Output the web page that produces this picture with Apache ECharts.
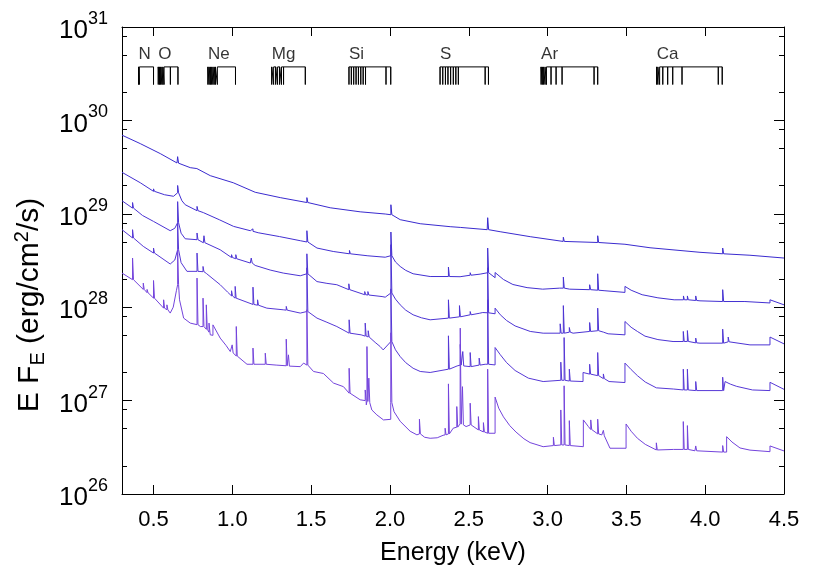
<!DOCTYPE html>
<html>
<head>
<meta charset="utf-8">
<script src="https://cdn.jsdelivr.net/npm/echarts@6/dist/echarts.min.js"></script>
<style>
  html, body { margin: 0; padding: 0; background: #fff; }
  #chart { width: 830px; height: 581px; }
</style>
</head>
<body>
<div id="chart"></div>
<script>
// axis ticks
const energyTicks = [0.5, 1.0, 1.5, 2.0, 2.5, 3.0, 3.5, 4.0, 4.5];
const fluxDecades = [1e26, 1e27, 1e28, 1e29, 1e30, 1e31];
const fluxMinor = [2e26, 5e26, 8e26, 2e27, 5e27, 8e27, 2e28, 5e28, 8e28,
  2e29, 5e29, 8e29, 2e30, 5e30, 8e30];

// continuum [E keV, E*F_E], lines [E keV, base, peak], top to bottom
const spec1Cont = [[0.3, 6.95e29], [0.416, 5.64e29], [0.543, 4.41e29], [0.649, 3.5e29], [0.733, 3.12e29],
  [0.86, 2.56e29], [1.006, 2.15e29], [1.145, 1.7e29], [1.304, 1.49e29], [1.473, 1.32e29], [1.621, 1.16e29],
  [1.811, 1.05e29], [1.97, 9.95e28], [2.006, 9.77e28], [2.065, 8.65e28], [2.192, 7.83e28], [2.382, 7.28e28],
  [2.617, 6.76e28], [2.699, 6.43e28], [2.89, 5.69e28], [3.099, 5.06e28], [3.318, 4.93e28], [3.491, 4.72e28],
  [3.65, 4.33e28], [3.967, 3.87e28], [4.111, 3.73e28], [4.284, 3.6e28], [4.5, 3.36e28]];
const spec1Lines = [[0.653, 3.48e29, 4.09e29], [0.775, 3.05e29, 3.2e29], [1.473, 1.32e29, 1.49e29],
  [2.006, 9.77e28, 1.25e29], [2.446, 7.15e28, 7.5e28], [2.62, 6.76e28, 9.08e28], [3.1, 5.06e28, 5.61e28],
  [3.318, 4.93e28, 5.82e28], [4.111, 3.73e28, 4.3e28]];

const spec2Cont = [[0.3, 2.78e29], [0.416, 2.15e29], [0.5, 1.74e29], [0.57, 1.6e29], [0.627, 1.54e29],
  [0.653, 1.68e29], [0.68, 1.38e29], [0.701, 1.25e29], [0.776, 1.08e29], [0.816, 1.03e29], [0.92, 8.6e28],
  [1.008, 7.33e28], [1.114, 6.59e28], [1.164, 6.27e28], [1.3, 5.7e28], [1.431, 5.15e28], [1.473, 4.99e28],
  [1.537, 4.3e28], [1.64, 3.95e28], [1.743, 3.73e28], [1.86, 3.55e28], [1.97, 3.43e28], [2.006, 3.56e28],
  [2.035, 3.05e28], [2.065, 2.73e28], [2.1, 2.48e28], [2.147, 2.28e28], [2.255, 2.13e28], [2.371, 2.13e28],
  [2.445, 2.12e28], [2.572, 2.26e28], [2.62, 2.34e28], [2.667, 2.07e28], [2.667, 2.35e28], [2.72, 1.98e28],
  [2.78, 1.75e28], [2.87, 1.62e28], [2.969, 1.56e28], [3.077, 1.6e28], [3.14, 1.56e28], [3.267, 1.54e28],
  [3.364, 1.5e28], [3.491, 1.44e28], [3.491, 1.67e28], [3.53, 1.52e28], [3.6, 1.36e28], [3.7, 1.26e28],
  [3.803, 1.2e28], [3.967, 1.17e28], [4.111, 1.15e28], [4.252, 1.15e28], [4.411, 1.11e28], [4.411, 1.2e28],
  [4.5, 1.06e28]];
const spec2Lines = [[0.5, 1.74e29, 1.85e29], [0.653, 1.68e29, 2.01e29], [0.776, 1.08e29, 1.2e29],
  [1.125, 6.5e28, 6.9e28], [1.473, 4.99e28, 6.59e28], [1.743, 3.73e28, 4.05e28], [2.006, 3.56e28, 6.38e28],
  [2.371, 2.13e28, 2.69e28], [2.509, 2.2e28, 2.34e28], [2.62, 2.34e28, 4.3e28], [3.1, 1.6e28, 2.1e28],
  [3.267, 1.54e28, 1.74e28], [3.318, 1.52e28, 2.28e28], [3.862, 1.2e28, 1.32e28], [3.887, 1.2e28, 1.32e28],
  [3.94, 1.18e28, 1.32e28], [4.111, 1.15e28, 1.54e28]];

const spec3Cont = [[0.3, 1.38e29], [0.367, 1.15e29], [0.43, 9.6e28], [0.5, 8.29e28], [0.606, 6.59e28],
  [0.635, 7.0e28], [0.653, 8.03e28], [0.675, 6.2e28], [0.701, 5.4e28], [0.776, 5.28e28], [0.816, 4.9e28],
  [0.923, 4.12e28], [1.006, 3.36e28], [1.114, 2.97e28], [1.145, 2.8e28], [1.24, 2.5e28], [1.323, 2.32e28],
  [1.431, 2.17e28], [1.473, 2.28e28], [1.537, 1.88e28], [1.6, 1.8e28], [1.663, 1.74e28], [1.739, 1.54e28],
  [1.843, 1.36e28], [1.95, 1.3e28], [1.97, 1.28e28], [2.006, 1.42e28], [2.035, 1.22e28], [2.065, 1.06e28],
  [2.1, 9.3e27], [2.147, 8.29e27], [2.2, 7.7e27], [2.255, 7.33e27], [2.371, 7.64e27], [2.452, 7.94e27],
  [2.509, 8.29e27], [2.589, 8.77e27], [2.62, 8.71e27], [2.667, 8.5e27], [2.667, 9.77e27], [2.7, 8.3e27],
  [2.74, 7.2e27], [2.794, 6.3e27], [2.89, 5.5e27], [2.972, 5.27e27], [3.08, 5.27e27], [3.162, 5.27e27],
  [3.267, 5.5e27], [3.384, 5.19e27], [3.491, 5.06e27], [3.491, 7.03e27], [3.53, 6.1e27], [3.57, 5.5e27],
  [3.618, 4.9e27], [3.7, 4.5e27], [3.796, 4.29e27], [3.967, 4.12e27], [4.146, 4.26e27], [4.284, 3.95e27],
  [4.411, 3.95e27], [4.411, 4.79e27], [4.5, 4.05e27]];
const spec3Lines = [[0.367, 1.15e29, 1.32e29], [0.5, 8.29e28, 8.65e28], [0.653, 8.03e28, 1.35e29],
  [0.776, 5.28e28, 6.23e28], [0.82, 4.9e28, 5.82e28], [0.995, 3.4e28, 3.65e28], [1.022, 3.3e28, 3.65e28],
  [1.12, 2.97e28, 3.36e28], [1.473, 2.28e28, 3.73e28], [1.663, 1.74e28, 1.8e28], [1.739, 1.54e28, 1.78e28],
  [1.84, 1.36e28, 1.47e28], [1.86, 1.35e28, 1.47e28], [2.006, 1.42e28, 4.67e28], [2.371, 7.64e27, 1.2e28],
  [2.441, 7.89e27, 1.04e28], [2.509, 8.29e27, 8.99e27], [2.566, 8.6e27, 8.99e27], [2.62, 8.71e27, 2.64e28],
  [3.08, 5.27e27, 6.64e27], [3.1, 5.27e27, 1.04e28], [3.138, 5.4e27, 6.06e27], [3.267, 5.5e27, 6.85e27],
  [3.318, 5.6e27, 9.77e27], [3.354, 5.41e27, 5.6e27], [3.861, 4.29e27, 5.5e27], [3.887, 4.3e27, 5.62e27],
  [3.94, 4.15e27, 4.67e27], [4.111, 4.12e27, 5.82e27], [4.146, 4.26e27, 4.79e27]];

const spec4Cont = [[0.3, 6.76e28], [0.367, 5.51e28], [0.435, 4.48e28], [0.5, 3.8e28], [0.606, 2.9e28],
  [0.635, 3.2e28], [0.653, 4.12e28], [0.675, 3.0e28], [0.712, 2.42e28], [0.776, 2.42e28], [0.835, 2.3e28],
  [0.923, 1.74e28], [0.97, 1.45e28], [1.018, 1.25e28], [1.133, 1.06e28], [1.219, 9.77e27], [1.323, 9.38e27],
  [1.431, 8.65e27], [1.473, 8.99e27], [1.537, 7.64e27], [1.6, 6.9e27], [1.663, 6.21e27], [1.741, 5.27e27],
  [1.817, 5.06e27], [1.906, 4.2e27], [1.938, 3.79e27], [1.957, 3.49e27], [2.006, 4.29e27], [2.035, 3.5e27],
  [2.065, 2.96e27], [2.1, 2.55e27], [2.147, 2.22e27], [2.192, 2.05e27], [2.255, 2.0e27], [2.371, 2.17e27],
  [2.426, 2.35e27], [2.509, 2.31e27], [2.604, 2.45e27], [2.667, 2.41e27], [2.667, 3.7e27], [2.7, 3.1e27],
  [2.74, 2.55e27], [2.794, 2.1e27], [2.878, 1.74e27], [2.972, 1.6e27], [3.105, 1.65e27], [3.225, 1.6e27],
  [3.225, 2.0e27], [3.28, 1.95e27], [3.39, 1.6e27], [3.491, 1.56e27], [3.491, 2.52e27], [3.53, 2.15e27],
  [3.57, 1.85e27], [3.62, 1.58e27], [3.69, 1.37e27], [3.8, 1.33e27], [3.967, 1.28e27], [4.126, 1.3e27],
  [4.126, 1.6e27], [4.16, 1.5e27], [4.2, 1.42e27], [4.3, 1.3e27], [4.411, 1.28e27], [4.411, 1.57e27],
  [4.5, 1.32e27]];
const spec4Lines = [[0.367, 5.51e28, 6.76e28], [0.5, 3.8e28, 4.3e28], [0.653, 4.12e28, 8.03e28],
  [0.776, 2.42e28, 3.8e28], [0.814, 2.4e28, 2.73e28], [0.995, 1.32e28, 1.5e28], [1.018, 1.25e28, 1.67e28],
  [1.131, 1.07e28, 1.64e28], [1.16, 1.05e28, 1.2e28], [1.342, 9.3e27, 1.02e28], [1.473, 8.99e27, 2.64e28],
  [1.741, 5.27e27, 7.33e27], [1.843, 4.9e27, 6.76e27], [1.862, 4.8e27, 5.6e27], [2.006, 4.29e27, 1.57e28],
  [2.371, 2.17e27, 4.94e27], [2.446, 2.4e27, 4.0e27], [2.462, 2.35e27, 3.35e27], [2.509, 2.31e27, 3.27e27],
  [2.566, 2.4e27, 2.85e27], [2.62, 2.45e27, 1.2e28], [3.084, 1.65e27, 2.58e27], [3.105, 1.65e27, 4.73e27],
  [3.138, 1.62e27, 2.17e27], [3.267, 1.92e27, 2.45e27], [3.318, 1.85e27, 3.27e27], [3.354, 1.72e27, 1.93e27],
  [3.861, 1.3e27, 2.17e27], [3.887, 1.3e27, 2.17e27], [3.94, 1.28e27, 1.6e27], [4.111, 1.28e27, 1.78e27]];

const spec5Cont = [[0.3, 2.32e28], [0.367, 1.97e28], [0.435, 1.55e28], [0.459, 1.43e28], [0.5, 1.25e28],
  [0.564, 9.77e27], [0.606, 8.65e27], [0.625, 1.0e28], [0.645, 1.5e28], [0.653, 1.74e28], [0.665, 1.2e28],
  [0.691, 7.64e27], [0.733, 6.76e27], [0.797, 6.21e27], [0.86, 5.06e27], [0.877, 5.0e27], [0.877, 6.47e27],
  [0.923, 4.67e27], [0.96, 3.9e27], [0.987, 3.35e27], [1.025, 3.0e27], [1.093, 2.45e27], [1.131, 2.45e27],
  [1.209, 2.45e27], [1.278, 2.4e27], [1.342, 2.36e27], [1.431, 2.31e27], [1.452, 2.52e27], [1.473, 2.4e27],
  [1.515, 2.05e27], [1.578, 1.95e27], [1.642, 1.54e27], [1.705, 1.41e27], [1.748, 1.15e27], [1.811, 1.02e27],
  [1.85, 9.0e26], [1.885, 7.94e26], [1.917, 7.03e26], [1.959, 6.21e26], [2.005, 6.3e26], [2.005, 9.5e26],
  [2.026, 7.6e26], [2.065, 6.0e26], [2.128, 4.7e26], [2.171, 4.3e26], [2.22, 4.05e26], [2.255, 3.95e26],
  [2.3, 4.0e26], [2.337, 4.25e26], [2.371, 4.4e26], [2.401, 5.06e26], [2.445, 5.62e26], [2.483, 5.27e26],
  [2.509, 5.49e26], [2.561, 4.85e26], [2.593, 4.62e26], [2.62, 4.47e26], [2.667, 4.47e26], [2.667, 1.09e27],
  [2.69, 8.3e26], [2.72, 6.7e26], [2.76, 5.4e26], [2.8, 4.6e26], [2.85, 3.9e26], [2.889, 3.55e26],
  [2.972, 3.21e26], [3.1, 3.35e26], [3.15, 3.3e26], [3.227, 3.21e26], [3.227, 6.21e26], [3.259, 5.27e26],
  [3.29, 4.8e26], [3.344, 4.29e26], [3.396, 3.09e26], [3.498, 3.09e26], [3.498, 5.62e26], [3.53, 4.7e26],
  [3.57, 3.95e26], [3.62, 3.4e26], [3.692, 2.96e26], [3.8, 3.0e26], [3.935, 2.9e26], [4.136, 2.81e26],
  [4.136, 4.11e26], [4.17, 3.6e26], [4.221, 3.11e26], [4.284, 2.95e26], [4.411, 2.84e26], [4.411, 3.27e26],
  [4.5, 2.89e26]];
const spec5Lines = [[0.367, 1.97e28, 3.36e28], [0.435, 1.55e28, 1.81e28], [0.459, 1.43e28, 1.55e28],
  [0.5, 1.25e28, 1.93e28], [0.564, 9.77e27, 1.2e28], [0.585, 9.38e27, 1.06e28], [0.653, 1.74e28, 4.12e28],
  [0.776, 6.5e27, 2.05e28], [0.814, 6.2e27, 1.25e28], [0.835, 5.8e27, 1.06e28], [0.852, 5.4e27, 6.76e27],
  [0.999, 3.24e27, 3.95e27], [1.025, 3.0e27, 6.21e27], [1.131, 2.45e27, 3.65e27], [1.209, 2.45e27, 3.22e27],
  [1.278, 2.4e27, 2.52e27], [1.342, 2.36e27, 4.55e27], [1.356, 2.34e27, 3.09e27], [1.473, 2.4e27, 9.38e27],
  [1.741, 1.2e27, 2.22e27], [1.843, 1.0e27, 1.3e27], [1.854, 9.8e26, 3.79e27], [1.866, 9.5e26, 1.74e27],
  [2.006, 9.5e26, 5.32e27], [2.187, 4.4e26, 6.32e26], [2.35, 4.3e26, 5.06e26], [2.371, 4.4e26, 1.51e27],
  [2.424, 5.2e26, 8.63e26], [2.446, 5.6e26, 5.97e27], [2.46, 5.5e26, 1.41e27], [2.509, 5.49e26, 9.38e26],
  [2.561, 4.85e26, 6.74e26], [2.593, 4.62e26, 5.81e26], [2.62, 4.47e26, 2.17e27], [3.037, 3.3e26, 4.05e26],
  [3.084, 3.35e26, 7.94e26], [3.105, 3.35e26, 1.44e27], [3.138, 3.3e26, 6.1e26], [3.274, 4.9e26, 6.21e26],
  [3.318, 4.4e26, 6.32e26], [3.354, 4.2e26, 4.8e26], [3.69, 2.96e26, 3.53e26], [3.861, 3.0e26, 5.96e26],
  [3.887, 3.0e26, 5.4e26], [3.94, 2.9e26, 3.27e26], [4.111, 2.81e26, 3.3e26]];

// element line markers at the top
const elementNames = ['N', 'O', 'Ne', 'Mg', 'Si', 'S', 'Ar', 'Ca'];
const elementLines = [
  [0.405, 0.41, 0.5],
  [0.53, 0.538, 0.545, 0.553, 0.56, 0.567, 0.607, 0.655],
  [0.845, 0.853, 0.861, 0.869, 0.877, 0.885, 0.893, 0.905, 1.02],
  [1.25, 1.262, 1.275, 1.287, 1.3, 1.312, 1.325, 1.463],
  [1.74, 1.755, 1.77, 1.785, 1.8, 1.815, 1.83, 1.845, 1.975, 2.005],
  [2.318, 2.335, 2.352, 2.368, 2.385, 2.402, 2.418, 2.434, 2.604, 2.625],
  [2.959, 2.967, 2.975, 2.984, 2.993, 3.022, 3.054, 3.092, 3.295, 3.318],
  [3.692, 3.7, 3.711, 3.731, 3.762, 3.794, 3.853, 4.083, 4.108]
];

const colors = ['#3a2bcf', '#4330d2', '#4c34d4', '#5638d6', '#7444dc'];
const lineWidthKeV = 0.006;
const markTop = 3.74e30, markBottom = 2.42e30, markLabel = 5.07e30;
const font = "'Liberation Sans', Arial, sans-serif";
// label positions: the top decade nudged inside the extent (float round-off drops 1e31 itself)
const fluxLabelValues = fluxDecades.map(v => (v === 1e31 ? 0.99999e31 : v));

// continuum + narrow lines -> one polyline
function buildSpectrum(cont, lines) {
  const groups = cont.map(p => ({ e: p[0], pts: [p] }));
  lines.forEach(l => {
    groups.push({ e: l[0], pts: [[l[0], l[1]], [l[0], l[2]], [l[0] + lineWidthKeV, l[2]], [l[0] + lineWidthKeV, l[1]]] });
  });
  groups.sort((a, b) => a.e - b.e);
  return groups.flatMap(g => g.pts);
}

function markerPath(es) {
  const pts = [];
  es.forEach(e => {
    pts.push([e, markTop], [e, markBottom], [e, markTop]);
  });
  return pts;
}

const spectra = [[spec1Cont, spec1Lines], [spec2Cont, spec2Lines], [spec3Cont, spec3Lines],
  [spec4Cont, spec4Lines], [spec5Cont, spec5Lines]];

const chart = echarts.init(document.getElementById('chart'));

const xCommon = {
  type: 'value', min: 0.3, max: 4.5,
  splitLine: { show: false },
  axisLine: { show: true, onZero: false, lineStyle: { color: '#000', width: 1 } },
  axisTick: { show: true, inside: true, length: 9, customValues: energyTicks.slice(0, -1), lineStyle: { color: '#000' } }
};
const yCommon = {
  type: 'log', logBase: 10, min: 1e26, max: 1e31,
  splitLine: { show: false },
  axisLabel: { show: false },
  axisLine: { show: false }
};

var option = {
  animation: false,
  backgroundColor: '#fff',
  grid: { left: 122, right: 46, top: 27, bottom: 87 },
  xAxis: [
    Object.assign({}, xCommon, {
      position: 'bottom',
      name: 'Energy (keV)', nameLocation: 'middle', nameGap: 47,
      nameTextStyle: { fontFamily: font, fontSize: 25, color: '#000' },
      axisLabel: {
        customValues: energyTicks, margin: 15, fontFamily: font, fontSize: 22, color: '#000',
        formatter: v => v.toFixed(1)
      }
    }),
    Object.assign({}, xCommon, { position: 'top', axisLabel: { show: false } })
  ],
  yAxis: [
    Object.assign({}, yCommon, {
      position: 'left',
      axisLine: { show: true, lineStyle: { color: '#000', width: 1 } },
      axisTick: { show: true, inside: true, length: 10, customValues: fluxDecades, lineStyle: { color: '#000' } },
      axisLabel: {
        show: true, customValues: fluxLabelValues, margin: 14, showMaxLabel: true, showMinLabel: true,
        formatter: v => '{b|10}{s|' + Math.round(Math.log10(v)) + '}',
        rich: {
          b: { fontFamily: font, fontSize: 26, color: '#000', lineHeight: 34, verticalAlign: 'bottom' },
          s: { fontFamily: font, fontSize: 18, color: '#000', lineHeight: 18, verticalAlign: 'top' }
        }
      }
    }),
    Object.assign({}, yCommon, {
      position: 'left',
      axisTick: { show: true, inside: true, length: 5, customValues: fluxMinor, lineStyle: { color: '#000' } }
    }),
    Object.assign({}, yCommon, {
      position: 'right',
      axisLine: { show: true, lineStyle: { color: '#000', width: 1 } },
      axisTick: { show: true, inside: true, length: 10, customValues: fluxDecades, lineStyle: { color: '#000' } }
    }),
    Object.assign({}, yCommon, {
      position: 'right',
      axisTick: { show: true, inside: true, length: 5, customValues: fluxMinor, lineStyle: { color: '#000' } }
    })
  ],
  graphic: [{
    type: 'text', x: 30, y: 305, rotation: Math.PI / 2,
    style: {
      text: '{n|E F}{sub|E}{n| (erg/cm}{sup|2}{n|/s)}',
      align: 'center', verticalAlign: 'middle',
      rich: {
        n: { fontFamily: font, fontSize: 30, fill: '#000', lineHeight: 36, verticalAlign: 'middle' },
        sub: { fontFamily: font, fontSize: 20, fill: '#000', lineHeight: 16, verticalAlign: 'bottom' },
        sup: { fontFamily: font, fontSize: 20, fill: '#000', lineHeight: 18, verticalAlign: 'top' }
      }
    }
  }],
  series: []
};

spectra.forEach((s, i) => {
  option.series.push({
    type: 'line', xAxisIndex: 0, yAxisIndex: 0,
    data: buildSpectrum(s[0], s[1]),
    showSymbol: false, symbol: 'none',
    lineStyle: { color: colors[i], width: 1 },
    z: 3
  });
});

elementLines.forEach(es => {
  option.series.push({
    type: 'line', xAxisIndex: 0, yAxisIndex: 0,
    data: markerPath(es), symbol: 'none',
    lineStyle: { color: '#000', width: 1 }
  });
});

option.series.push({
  type: 'scatter', xAxisIndex: 0, yAxisIndex: 0,
  symbolSize: 0,
  data: elementNames.map((n, i) => ({ name: n, value: [elementLines[i][0], markLabel] })),
  label: {
    show: true, position: 'right', distance: 0, formatter: '{b}',
    fontFamily: font, fontSize: 17, color: '#000'
  }
});

chart.setOption(option);
window.onresize = chart.resize;
</script>
</body>
</html>
